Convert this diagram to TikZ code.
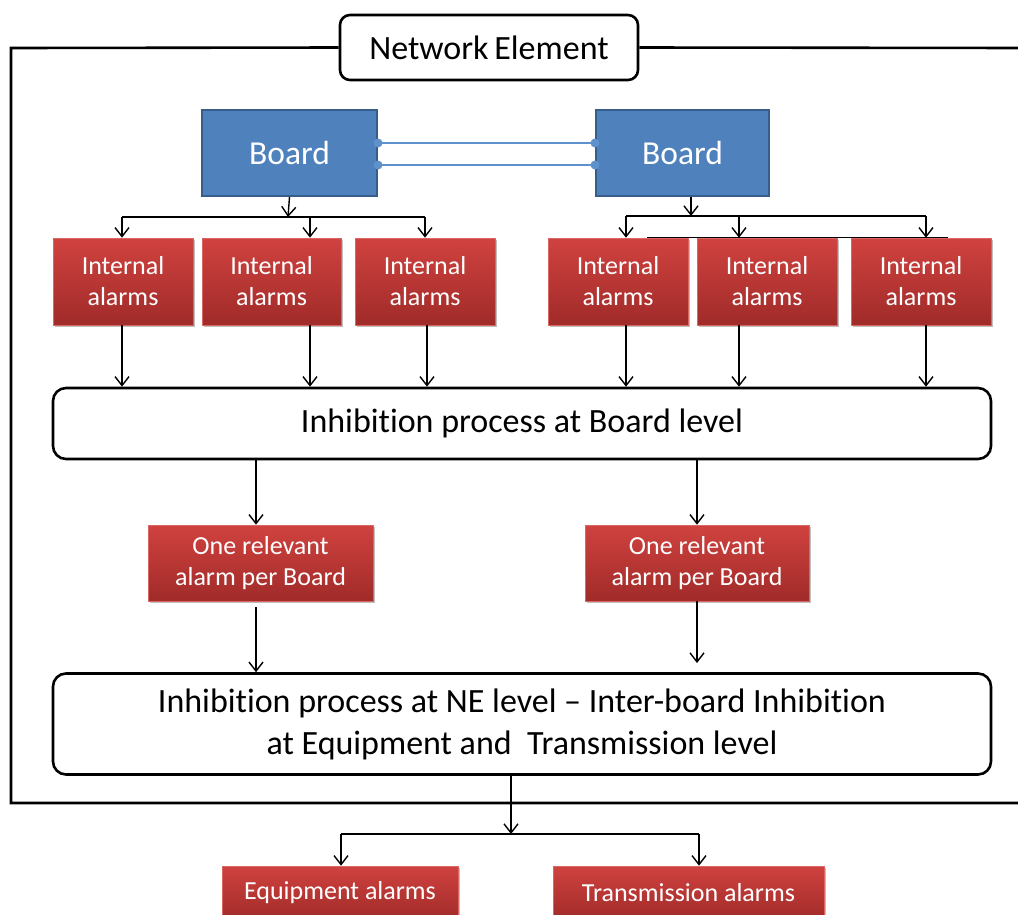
\documentclass[tikz,border=0pt]{standalone}
\usepackage{fontspec}
\setmainfont{Carlito}[Ligatures=NoCommon]
\usetikzlibrary{arrows.meta,shadows,calc}
\definecolor{boardfill}{RGB}{79,129,189}
\definecolor{boardline}{RGB}{56,93,138}
\definecolor{redtop}{RGB}{208,66,63}
\definecolor{redbot}{RGB}{160,43,41}
\definecolor{linkblue}{RGB}{95,145,205}

\begin{document}
\begin{tikzpicture}[x=1pt,y=-1pt,
  arr/.style={-{Straight Barb[length=9pt,width=14pt,line width=1.4pt]}, line width=1.4pt},
  bus/.style={line width=1.4pt},
  frame/.style={line width=2.6pt},
  boardbox/.style={draw=boardline, line width=2pt, fill=boardfill, text=white,
    font=\fontsize{33.5}{40}\selectfont, minimum width=175pt, minimum height=86pt},
  alarmbox/.style={top color=redtop, bottom color=redbot, draw=redtop!80!white, line width=0.6pt,
    text=white, align=center, inner sep=0pt,
    drop shadow={shadow xshift=1.5pt, shadow yshift=-2pt, opacity=0.25, fill=black}},
  procbox/.style={draw=black, line width=2.6pt, rounded corners=13pt, fill=white,
    align=center, font=\fontsize{34}{42}\selectfont, minimum width=938pt},
  link/.style={draw=linkblue, line width=1.3pt},
  linkdot/.style={circle, fill=linkblue, inner sep=0pt, minimum size=9pt}
]
\useasboundingbox (0,0) rectangle (1018,914);

% Network element frame and its title
\node[draw=black, line width=2.6pt, rounded corners=10pt, fill=white,
  minimum width=298pt, minimum height=65pt, font=\fontsize{34}{40}\selectfont]
  (ne) at (489,47.5) {Network\kern-2pt\ Element};
\coordinate (tl) at (11,48);
\coordinate (bl) at (11,803);
\coordinate (br) at (1030,803);
\coordinate (tr) at (1030,48);
\draw[frame] (ne.west) -- (tl) -- (bl) -- (br);
\draw[frame] (ne.east) -- (tr);

% Boards and their link
\node[boardbox] (b1) at (289.5,153) {Board};
\node[boardbox, minimum width=173pt] (b2) at (682.5,153) {Board};
\draw[link] ([yshift=10pt]b1.east) -- ([yshift=10pt]b2.west);
\draw[link] ([yshift=-12pt]b1.east) -- ([yshift=-12pt]b2.west);
\node[linkdot] at ([yshift=10pt]b1.east) {};
\node[linkdot] at ([yshift=-12pt]b1.east) {};
\node[linkdot] at ([yshift=10pt]b2.west) {};
\node[linkdot] at ([yshift=-12pt]b2.west) {};

% Internal alarms
\tikzset{ia/.style={alarmbox, minimum width=140pt, minimum height=87pt,
  font=\fontsize{26}{31}\selectfont}}
\node[ia] (a1) at (123,281.5) {Internal\\alarms};
\node[ia, minimum width=139pt] (a2) at (271.5,281.5) {Internal\\alarms};
\node[ia] (a3) at (425,281.5) {Internal\\alarms};
\node[ia] (a4) at (618,281.5) {Internal\\alarms};
\node[ia] (a5) at (767,281.5) {Internal\\alarms};
\node[ia] (a6) at (921,281.5) {Internal\\alarms};

% Fan-out from the boards
\coordinate (lbus) at (288,217);
\coordinate (rbus) at (691,216);
\draw[arr] (b1.south) -- (lbus);
\draw[bus] (lbus -| 122,0) -- (lbus -| 425,0);
\draw[arr] (lbus -| 122,0) -- (a1.north -| 122,0);
\draw[arr] (lbus -| 310,0) -- (a2.north -| 310,0);
\draw[arr] (lbus -| 425,0) -- (a3.north -| 425,0);
\draw[arr] (b2.south -| rbus) -- (rbus);
\draw[bus] (rbus -| 626,0) -- (rbus -| 926,0);
\draw[arr] (rbus -| 626,0) -- (a4.north -| 626,0);
\draw[arr] (rbus -| 739,0) -- (a5.north -| 739,0);
\draw[arr] (rbus -| 926,0) -- (a6.north -| 926,0);
\draw[bus] (a4.north -| 647,0) -- (a6.north -| 948,0);

% Board level inhibition
\node[procbox, minimum height=71pt] (p1) at (522,423.5) {Inhibition process at Board level};
\draw[arr] (a1.south -| 122,0) -- (p1.north -| 122,0);
\draw[arr] (a2.south -| 310,0) -- (p1.north -| 310,0);
\draw[arr] (a3.south -| 427,0) -- (p1.north -| 427,0);
\draw[arr] (a4.south -| 626,0) -- (p1.north -| 626,0);
\draw[arr] (a5.south -| 739,0) -- (p1.north -| 739,0);
\draw[arr] (a6.south -| 926,0) -- (p1.north -| 926,0);

% One alarm per board
\tikzset{rel/.style={alarmbox, minimum width=225pt, minimum height=76pt,
  font=\fontsize{26}{31}\selectfont}}
\node[rel] (r1) at (260.5,563) {One relevant\\alarm per Board};
\node[rel, minimum width=224pt] (r2) at (697,563) {One relevant\\alarm per Board};
\draw[arr] (p1.south -| 256,0) -- (r1.north -| 256,0);
\draw[arr] (p1.south -| 697,0) -- (r2.north -| 697,0);

% NE level inhibition
\node[procbox, minimum height=101pt] (p2) at (522,724)
  {Inhibition process at NE level -- Inter-board Inhibition\\at Equipment and\ \ Transmission level};
\draw[arr] ([yshift=-6pt]r1.south -| 256,0) -- (p2.north -| 256,0);
\coordinate (rtip) at (697,663);
\draw[arr] (r2.south -| rtip) -- (rtip);

% Output alarms
\tikzset{outbox/.style={alarmbox, minimum height=54pt, font=\fontsize{26}{30}\selectfont}}
\node[outbox, minimum width=236pt] (eq) at (340,893) {Equipment alarms};
\node[outbox, minimum width=271pt] (tx) at (688.5,893) {Transmission alarms};
\coordinate (obus) at (511,834);
\draw[arr] (p2.south -| obus) -- (obus);
\draw[bus] (obus -| 341,0) -- (obus -| 699,0);
\draw[arr] (obus -| 341,0) -- (eq.north -| 341,0);
\draw[arr] (obus -| 699,0) -- (tx.north -| 699,0);
\end{tikzpicture}
\end{document}
